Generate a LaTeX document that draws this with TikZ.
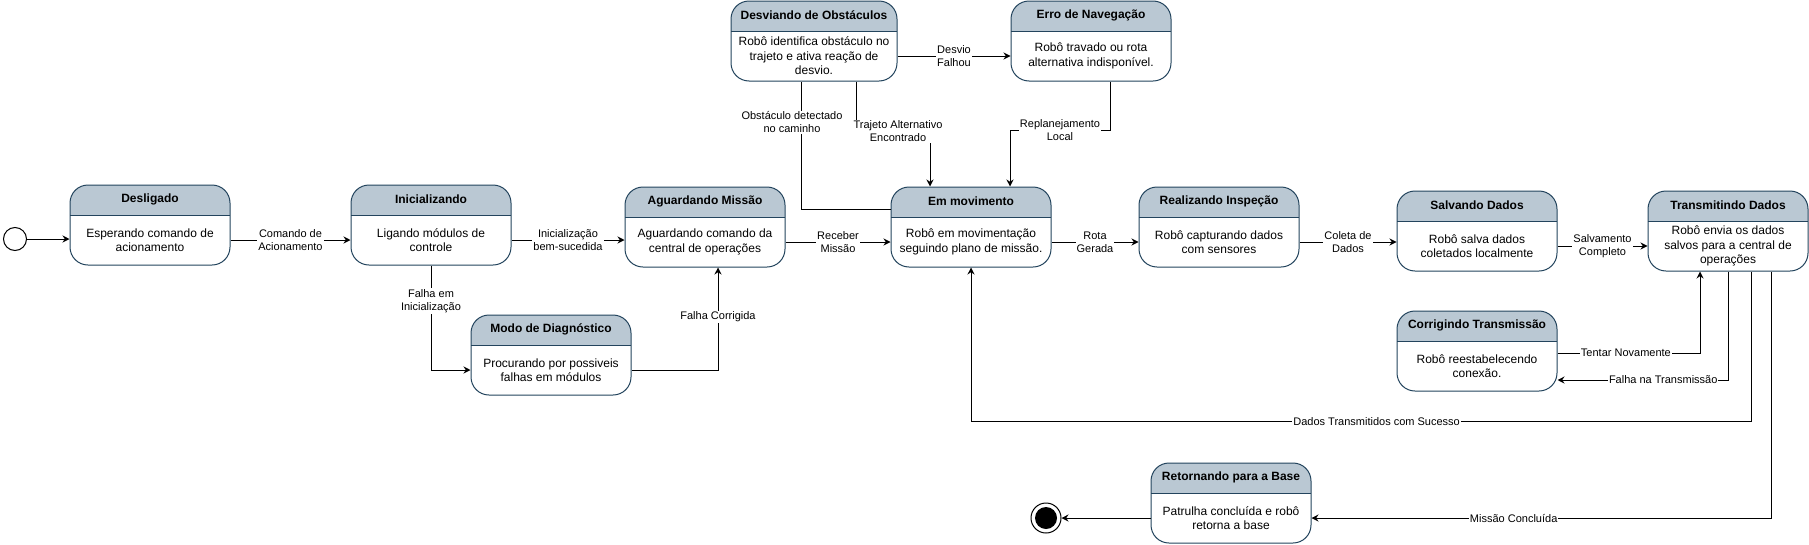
\documentclass[tikz,border=0pt]{standalone}
\usepackage{fontspec}
\setmainfont{Liberation Sans}
\usepackage{tikz}
\usetikzlibrary{arrows.meta}
\definecolor{entete}{HTML}{BAC8D3}
\definecolor{bordure}{HTML}{23445D}
\newcommand{\entcol}{entete}
\newcommand{\bordcol}{bordure}

\tikzset{
  etat/.style={draw=\bordcol, fill=white, line width=1pt, rounded corners=18pt,
    minimum width=160pt, minimum height=80pt, inner sep=0pt,
    path picture={
      \fill[\entcol, sharp corners] (path picture bounding box.north west) rectangle ([yshift=-30pt]path picture bounding box.north east);
      \draw[\bordcol, line width=1pt, sharp corners] ([yshift=-30pt]path picture bounding box.north west) -- ([yshift=-30pt]path picture bounding box.north east);
    }},
  titre/.style={font=\bfseries\fontsize{12}{14}\selectfont, inner sep=0pt},
  corps/.style={align=center, font=\fontsize{12}{14.5}\selectfont, inner sep=0pt},
  etiq/.style={fill=white, align=center, font=\fontsize{11}{13}\selectfont, inner sep=1pt},
  fleche/.style={draw=black, line width=1pt, -{Stealth[length=7pt, width=7pt]}},
  etatinit/.style={circle, draw=black, fill=white, line width=1pt, minimum size=23pt, inner sep=0pt},
  etatfin/.style={circle, draw=black, fill=white, line width=1pt, minimum size=30pt, inner sep=0pt,
    path picture={\fill[black] (path picture bounding box.center) circle (11pt);}}
}

\begin{document}
\begin{tikzpicture}[x=1pt, y=-1pt]

    \useasboundingbox (0, 0) rectangle (1809, 544);

    % etats
    \node[etatinit] (debut) at (15, 239) {};

    \node[etat] (desl) at (150, 225) {};
    \node[titre] (desl-t) at ([yshift=-15pt]desl.north) {Desligado};
    \node[corps] (desl-c) at ([yshift=-15pt]desl.center) {Esperando comando de\\acionamento};

    \node[etat] (inic) at (431, 225) {};
    \node[titre] (inic-t) at ([yshift=-15pt]inic.north) {Inicializando};
    \node[corps] (inic-c) at ([yshift=-15pt]inic.center) {Ligando módulos de\\controle};

    \node[etat] (modo) at (551, 355) {};
    \node[titre] (modo-t) at ([yshift=-15pt]modo.north) {Modo de Diagnóstico};
    \node[corps] (modo-c) at ([yshift=-15pt]modo.center) {Procurando por possiveis\\falhas em módulos};

    \node[etat] (aguard) at (705, 227) {};
    \node[titre] (aguard-t) at ([yshift=-15pt]aguard.north) {Aguardando Missão};
    \node[corps] (aguard-c) at ([yshift=-15pt]aguard.center) {Aguardando comando da\\central de operações};

    \node[etat] (emmov) at (971, 227) {};
    \node[titre] (emmov-t) at ([yshift=-15pt]emmov.north) {Em movimento};
    \node[corps] (emmov-c) at ([yshift=-15pt]emmov.center) {Robô em movimentação\\seguindo plano de missão.};

    \node[etat, minimum width=166pt] (desv) at (814, 41) {};
    \node[titre] (desv-t) at ([yshift=-15pt]desv.north) {Desviando de Obstáculos};
    \node[corps] (desv-c) at ([yshift=-15pt]desv.center) {Robô identifica obstáculo no\\trajeto e ativa reação de\\desvio.};

    \node[etat] (erro) at (1091, 41) {};
    \node[titre] (erro-t) at ([yshift=-15pt]erro.north) {Erro de Navegação};
    \node[corps] (erro-c) at ([yshift=-15pt]erro.center) {Robô travado ou rota\\alternativa indisponível.};

    \node[etat] (realiz) at (1219, 227) {};
    \node[titre] (realiz-t) at ([yshift=-15pt]realiz.north) {Realizando Inspeção};
    \node[corps] (realiz-c) at ([yshift=-15pt]realiz.center) {Robô capturando dados\\com sensores};

    \node[etat] (salv) at (1477, 231) {};
    \node[titre] (salv-t) at ([yshift=-15pt]salv.north) {Salvando Dados};
    \node[corps] (salv-c) at ([yshift=-15pt]salv.center) {Robô salva dados\\coletados localmente};

    \node[etat] (trans) at (1728, 231) {};
    \node[titre] (trans-t) at ([yshift=-15pt]trans.north) {Transmitindo Dados};
    \node[corps] (trans-c) at ([yshift=-15pt]trans.center) {Robô envia os dados\\salvos para a central de\\operações};

    \node[etat] (corrig) at (1477, 351) {};
    \node[titre] (corrig-t) at ([yshift=-15pt]corrig.north) {Corrigindo Transmissão};
    \node[corps] (corrig-c) at ([yshift=-15pt]corrig.center) {Robô reestabelecendo\\conexão.};

    \node[etat] (retorn) at (1231, 503) {};
    \node[titre] (retorn-t) at ([yshift=-15pt]retorn.north) {Retornando para a Base};
    \node[corps] (retorn-c) at ([yshift=-15pt]retorn.center) {Patrulha concluída e robô\\retorna a base};

    \node[etatfin] (fin) at (1046, 518) {};

    % transitions
    \draw[fleche] (debut) -- (debut -| desl.west);
    \draw[fleche] (desl.east |- desl-c) -- (inic.west |- desl-c) node[etiq, midway] {Comando de\\Acionamento};
    \draw[fleche] (inic.east |- inic-c) -- (aguard.west |- inic-c) node[etiq, midway] {Inicialização\\bem-sucedida};
    \draw[fleche] (inic.south) |- (modo.west |- modo-c) node[etiq, pos=0.17] {Falha em\\Inicialização};
    \draw[fleche] (modo.east |- modo-c) -| ([xshift=13pt]aguard.south) node[etiq, pos=0.76] {Falha Corrigida};
    \draw[fleche] (aguard.east |- aguard-c) -- (emmov.west |- aguard-c) node[etiq, midway] {Receber\\Missão};
    \draw[fleche] (emmov.east |- emmov-c) -- (realiz.west |- emmov-c) node[etiq, midway] {Rota\\Gerada};
    \draw[fleche] (realiz.east |- realiz-c) -- (salv.west |- realiz-c) node[etiq, midway] {Coleta de\\Dados};
    \draw[fleche] (salv.east |- salv-c) -- (trans.west |- salv-c) node[etiq, midway] {Salvamento\\Completo};

    % obstacles
    \draw[fleche, -] ([yshift=-23pt]emmov.north west) -| ([xshift=-13pt]desv.south) node[etiq, pos=0.84, xshift=-9pt] {Obstáculo detectado\\no caminho};
    \draw[fleche] ([xshift=42pt]desv.south) -- ++(0, 50) -| ([xshift=-41pt]emmov.north) node[etiq, pos=0.25, xshift=5pt] {Trajeto Alternativo\\Encontrado};
    \draw[fleche] (desv.east |- desv-c) -- (erro.west |- desv-c) node[etiq, midway] {Desvio\\Falhou};
    \draw[fleche] ([xshift=19pt]erro.south) -- ++(0, 49) -| ([xshift=39pt]emmov.north) node[etiq, pos=0.25] {Replanejamento\\Local};

    % transmission
    \draw[fleche] (trans.south) |- ([yshift=-29pt]corrig.east) node[etiq, pos=0.69] {Falha na Transmissão};
    \draw[fleche] ([yshift=-2pt]corrig.east) -| ([xshift=-28pt]trans.south) node[etiq, pos=0.24] {Tentar Novamente};
    \draw[fleche] ([xshift=23pt]trans.south) -- ++(0, 150) -| (emmov.south) node[etiq, pos=0.24] {Dados Transmitidos com Sucesso};
    \draw[fleche] ([xshift=43pt]trans.south) |- (retorn.east |- retorn-c) node[etiq, pos=0.78] {Missão Concluída};
    \draw[fleche] (retorn.west |- retorn-c) -- (fin);

\end{tikzpicture}
\end{document}
